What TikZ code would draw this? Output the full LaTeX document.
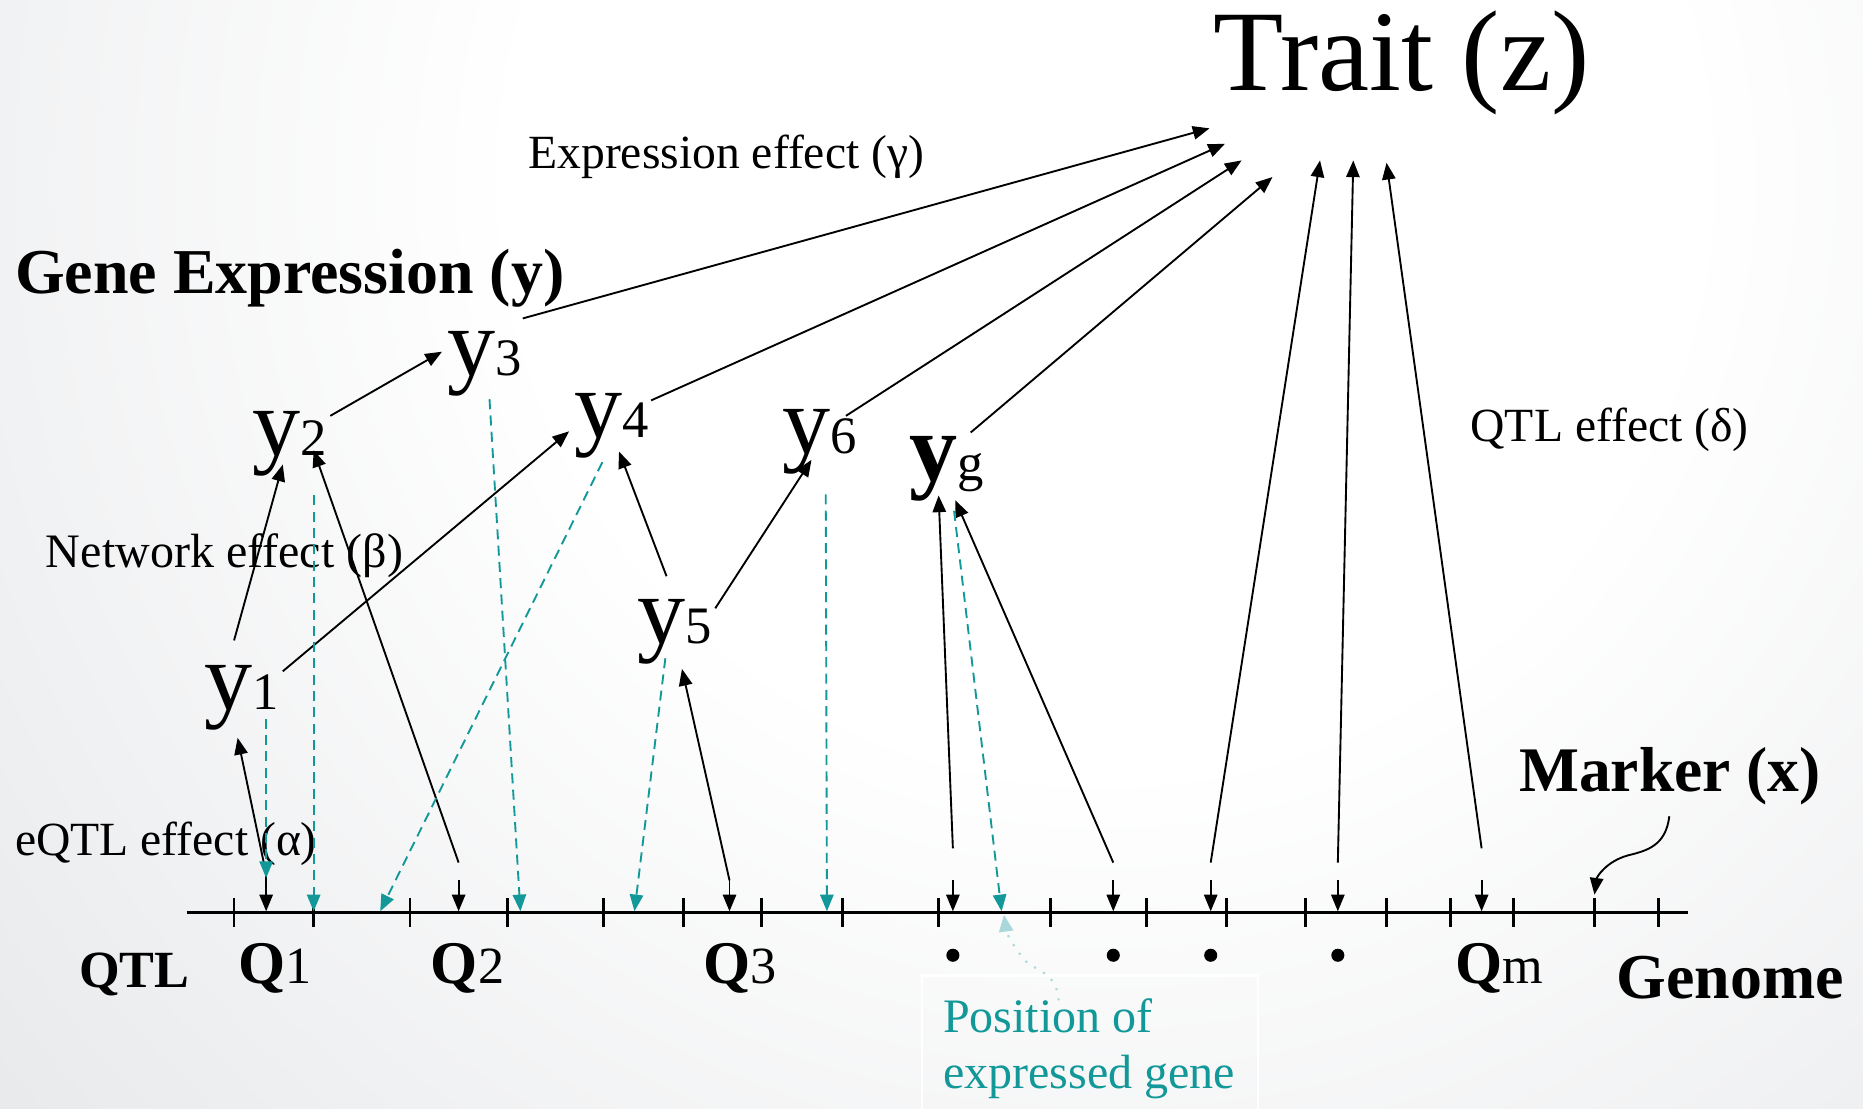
\documentclass[tikz,border=0pt]{standalone}
\usepackage{fontspec}
\setmainfont{Liberation Serif}
\usetikzlibrary{arrows.meta}
\definecolor{tealc}{RGB}{18,152,152}
\definecolor{lteal}{RGB}{170,216,218}
\definecolor{bggray}{RGB}{206,209,213}
\pgfdeclareradialshading{bgshade}{\pgfpoint{0bp}{0bp}}{color(0bp)=(white); color(8bp)=(white); color(33bp)=(bggray); color(50bp)=(bggray)}
\newcommand\ylab[1]{{\fontsize{23}{25}\selectfont y}{\fontsize{12.6}{14}\selectfont #1}}
\newcommand\yglab{{\fontsize{23}{25}\selectfont\bfseries y}{\fontsize{12.6}{14}\selectfont g}}
\newcommand\qlab[1]{{\fontsize{14.5}{16}\selectfont\bfseries Q}{\fontsize{12.5}{14}\selectfont #1}}
\begin{document}
\begin{tikzpicture}[x=0.01cm,y=-0.01cm,
  lbl/.style={anchor=base west, inner sep=0pt},
  ar/.style={-{Triangle[length=4pt,width=3.2pt]}, line width=0.45pt, black},
  tl/.style={-{Triangle[length=4pt,width=3.2pt]}, line width=0.45pt, tealc, dash pattern=on 2.4pt off 1.5pt},
  tick/.style={line width=0.65pt},
  dotn/.style={circle, fill=black, inner sep=0pt, minimum size=0.11cm}]
\useasboundingbox (0,0) rectangle (1568,933);
\begin{scope}
  \clip (0,0) rectangle (1568,933);
  \fill[bggray] (0,0) rectangle (1568,933);
  \shade[shading=bgshade] (930,150) circle [radius=15.5cm];
\end{scope}

% callout box
\draw[white, line width=0.6pt] (776,940) -- (776,821) -- (1059,821) -- (1059,940);

% texts
\node[lbl] (trait) at (1021,76) {\fontsize{27.5}{30}\selectfont Trait (z)};
\node[lbl] (exl) at (444,142) {\fontsize{11.4}{13}\selectfont Expression effect (γ)};
\node[lbl] (gel) at (12,247) {\fontsize{15.3}{17}\selectfont\bfseries Gene Expression (y)};
\node[lbl] (nel) at (38,478) {\fontsize{11.5}{13}\selectfont Network effect (β)};
\node[lbl] (qel) at (1237,372) {\fontsize{11.4}{13}\selectfont QTL effect (δ)};
\node[lbl] (eql) at (12,720) {\fontsize{11.4}{13}\selectfont eQTL effect (α)};
\node[lbl] (mk) at (1278,666) {\fontsize{15.2}{17}\selectfont\bfseries Marker (x)};
\node[lbl] (gn) at (1360,840) {\fontsize{15.3}{17}\selectfont\bfseries Genome};
\node[lbl] (qtl) at (66,831) {\fontsize{12.5}{14}\selectfont\bfseries QTL};
\node[lbl] (q1) at (200,828) {\qlab{1}};
\node[lbl] (q2) at (362,828) {\qlab{2}};
\node[lbl] (q3) at (591,828) {\qlab{3}};
\node[lbl] (qm) at (1224,828) {\qlab{m}};
\node[lbl, text=tealc] (pos1) at (793,869) {\fontsize{11.5}{13}\selectfont Position of};
\node[lbl, text=tealc] (pos2) at (793,916) {\fontsize{11.5}{13}\selectfont expressed gene};

% y nodes
\node[lbl] (y1) at (171,597) {\ylab{1}};
\node[lbl] (y2) at (212,383) {\ylab{2}};
\node[lbl] (y3) at (376,316) {\ylab{3}};
\node[lbl] (y4) at (483,368) {\ylab{4}};
\node[lbl] (y5) at (536,542) {\ylab{5}};
\node[lbl] (y6) at (658,382) {\ylab{6}};
\node[lbl] (yg) at (765,404) {\yglab};

% dots
\node[dotn] (d1) at (802,804) {};
\node[dotn] (d2) at (937,804) {};
\node[dotn] (d3) at (1019,804) {};
\node[dotn] (d4) at (1126,804) {};

% genome axis
\coordinate (axL) at (157,768);
\coordinate (axR) at (1421,768);
\draw[line width=0.75pt] (axL) -- (axR);
\foreach \t in {197,264,345,427,508,575,641,709,790,884,965,1032,1099,1167,1221,1274,1342,1396}
  \draw[tick] (\t,756) -- (\t,780);

% QTL positions: short arrows onto the axis
\foreach \q/\s in {224/726,386/741,614/741,802/741,937/741,1019/741,1126/741,1247/741}{
  \coordinate (qs\q) at (\q,\s);
  \coordinate (qe\q) at (\q,767);
  \draw[ar] (qs\q) -- (qe\q);
}

% eQTL effects
\coordinate (t1) at (222,726);  \coordinate (h1) at (200,621);
\coordinate (t2) at (386,726);  \coordinate (h2) at (264,379);
\coordinate (t3) at (614,741);  \coordinate (h3) at (574,563);
\coordinate (t4) at (802,714);  \coordinate (h4) at (790,417);
\coordinate (t5) at (937,726);  \coordinate (h5) at (804,421);
\draw[ar] (t1) -- (h1);
\draw[ar] (t2) -- (h2);
\draw[ar] (t3) -- (h3);
\draw[ar] (t4) -- (h4);
\draw[ar] (t5) -- (h5);

% network effects
\coordinate (n1t) at (197,539); \coordinate (n1h) at (238,391);
\coordinate (n2t) at (278,350); \coordinate (n2h) at (372,296);
\coordinate (n3t) at (238,565); \coordinate (n3h) at (479,363);
\coordinate (n4t) at (561,485); \coordinate (n4h) at (521,380);
\coordinate (n5t) at (602,512); \coordinate (n5h) at (683,387);
\draw[ar] (n1t) -- (n1h);
\draw[ar] (n2t) -- (n2h);
\draw[ar] (n3t) -- (n3h);
\draw[ar] (n4t) -- (n4h);
\draw[ar] (n5t) -- (n5h);

% expression effects to trait
\coordinate (e1t) at (440,268); \coordinate (e1h) at (1018,108);
\coordinate (e2t) at (548,337); \coordinate (e2h) at (1031,121);
\coordinate (e3t) at (712,350); \coordinate (e3h) at (1045,135);
\coordinate (e4t) at (817,364); \coordinate (e4h) at (1071,149);
\draw[ar] (e1t) -- (e1h);
\draw[ar] (e2t) -- (e2h);
\draw[ar] (e3t) -- (e3h);
\draw[ar] (e4t) -- (e4h);

% QTL effects to trait
\coordinate (z1t) at (1019,726); \coordinate (z1h) at (1111,135);
\coordinate (z2t) at (1126,726); \coordinate (z2h) at (1139,135);
\coordinate (z3t) at (1247,714); \coordinate (z3h) at (1167,137);
\draw[ar] (z1t) -- (z1h);
\draw[ar] (z2t) -- (z2h);
\draw[ar] (z3t) -- (z3h);

% gene positions (teal dashed)
\coordinate (g1t) at (224,605); \coordinate (g1h) at (224,739);
\coordinate (g2t) at (264,417); \coordinate (g2h) at (264,767);
\coordinate (g3t) at (412,336); \coordinate (g3h) at (438,767);
\coordinate (g4t) at (507,389); \coordinate (g4h) at (320,767);
\coordinate (g5t) at (560,554); \coordinate (g5h) at (534,767);
\coordinate (g6t) at (695,416); \coordinate (g6h) at (696,767);
\coordinate (g7t) at (803,430); \coordinate (g7h) at (843,767);
\foreach \i in {1,...,7} \draw[tl] (g\i t) -- (g\i h);

% callout pointer
\coordinate (ct) at (891,842);
\coordinate (ch) at (845,770);
\draw[lteal, line width=0.5pt, dotted, -{Triangle[length=4pt,width=3.4pt]}]
  (ct) .. controls (889,815) and (868,818) .. (860,805) .. controls (852,795) and (847,785) .. (ch);

% marker pointer
\coordinate (mt) at (1405,687);
\coordinate (mh) at (1342,753);
\draw[ar] (mt) .. controls (1402,712) and (1386,716) .. (1370,720) .. controls (1352,725) and (1344,738) .. (mh);
\end{tikzpicture}
\end{document}
